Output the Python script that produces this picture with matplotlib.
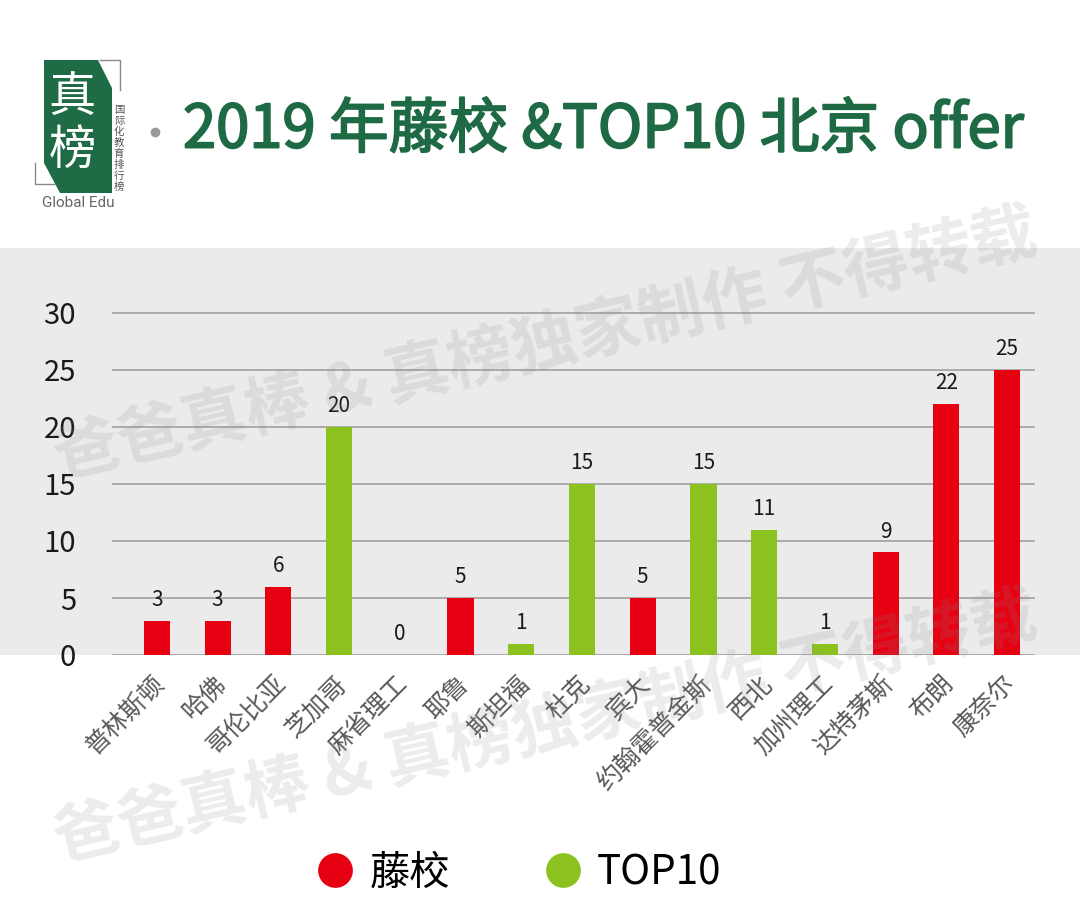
import matplotlib
matplotlib.use('Agg')
import matplotlib.pyplot as plt
import matplotlib.patheffects as pe
from matplotlib.patches import Rectangle, Polygon
from matplotlib.lines import Line2D
from matplotlib.transforms import ScaledTranslation

plt.rcParams['font.family'] = ['Noto Sans CJK SC', 'DejaVu Sans']

# 数据
schools = ['普林斯顿', '哈佛', '哥伦比亚', '芝加哥', '麻省理工', '耶鲁', '斯坦福', '杜克',
           '宾大', '约翰霍普金斯', '西北', '加州理工', '达特茅斯', '布朗', '康奈尔']
offers = [3, 3, 6, 20, 0, 5, 1, 15, 5, 15, 11, 1, 9, 22, 25]
groups = ['藤校', '藤校', '藤校', 'TOP10', 'TOP10', '藤校', 'TOP10', 'TOP10',
          '藤校', 'TOP10', 'TOP10', 'TOP10', '藤校', '藤校', '藤校']
y_ticks = [0, 5, 10, 15, 20, 25, 30]

RED = '#e60012'
GREEN = '#8cc21f'
DARK_GREEN = '#1d6a45'
colors = {'藤校': RED, 'TOP10': GREEN}

fig = plt.figure(figsize=(10.8, 9.01), dpi=100)

# 背景层 (像素坐标)
bg = fig.add_axes([0, 0, 1, 1], zorder=-1)
bg.set_xlim(0, 1080)
bg.set_ylim(901, 0)
bg.axis('off')
bg.add_patch(Rectangle((0, 248), 1080, 407, color='#ebebeb', lw=0))

# Logo
bg.add_patch(Polygon([(44, 60), (98, 60), (112, 88), (112, 193), (60, 193), (44, 163)],
                     closed=True, color='#1f6b46', lw=0))
bg.plot([100, 120, 120], [60, 60, 90], color='#8a8a8a', lw=1)
bg.plot([35, 35, 55], [163, 184, 184], color='#8a8a8a', lw=1)
bg.text(72, 98, '真', color='white', fontsize=34, ha='center', va='center')
bg.text(72, 151, '榜', color='white', fontsize=34, ha='center', va='center')
for i, ch in enumerate('国际化教育排行榜'):
    bg.text(119, 110 + i * 11, ch, fontsize=7.5, color='#555555', ha='center', va='center')
bg.text(78, 203, 'Global Edu', fontsize=11, color='#666666', ha='center', va='center',
        family='Roboto')

# 标题
bg.plot([155], [132], marker='o', ms=7, color='#9a9a9a', mec='none')
bg.text(183, 131, '2019 年藤校 &TOP10 北京 offer', fontsize=43,
        color=DARK_GREEN, ha='left', va='center',
        path_effects=[pe.withStroke(linewidth=1.4, foreground=DARK_GREEN)])

# 主图
ax = fig.add_axes([112 / 1080, 1 - 655 / 901, 923 / 1080, 347.7 / 901])
ax.set_facecolor('none')
x = list(range(len(schools)))
bars = ax.bar(x, offers, width=0.43, color=[colors[g] for g in groups], zorder=2)
ax.bar_label(bars, padding=7, fontsize=15, color='#1a1a1a')

ax.set_xlim(-0.74, 14.46)
ax.set_ylim(0, 30.5)
ax.set_yticks(y_ticks)
ax.yaxis.grid(True, color='#a6a6a6', lw=1.3)
ax.set_axisbelow(True)
for s in ax.spines.values():
    s.set_visible(False)
ax.tick_params(axis='y', length=0, pad=26, labelsize=21, labelcolor='#1a1a1a')
ax.tick_params(axis='x', length=0, pad=18)
ax.set_xticks(x)
ax.set_xticklabels(schools, rotation=45, ha='right', va='center', rotation_mode='anchor',
                   fontsize=18, color='#595959')
for lbl in ax.get_xticklabels():
    lbl.set_transform(lbl.get_transform() + ScaledTranslation(4 / 100, 0, fig.dpi_scale_trans))

# 图例
handles = [Line2D([], [], ls='none', marker='o', ms=25, color=RED, mec='none'),
           Line2D([], [], ls='none', marker='o', ms=25, color=GREEN, mec='none')]
fig.legend(handles, ['藤校', 'TOP10'], loc='center', bbox_to_anchor=(0.48, 1 - 873 / 901),
           ncol=2, frameon=False, fontsize=29, handlelength=1.0, handletextpad=0.35,
           columnspacing=2.3)

# 水印
for y0 in (458, 841):
    fig.text(55 / 1080, 1 - y0 / 901, '爸爸真棒 & 真榜独家制作 不得转载', fontsize=47,
             fontweight='bold', color='#888888', alpha=0.16, rotation=13,
             rotation_mode='anchor', ha='left', va='center')

fig.savefig('out.png', dpi=100)
